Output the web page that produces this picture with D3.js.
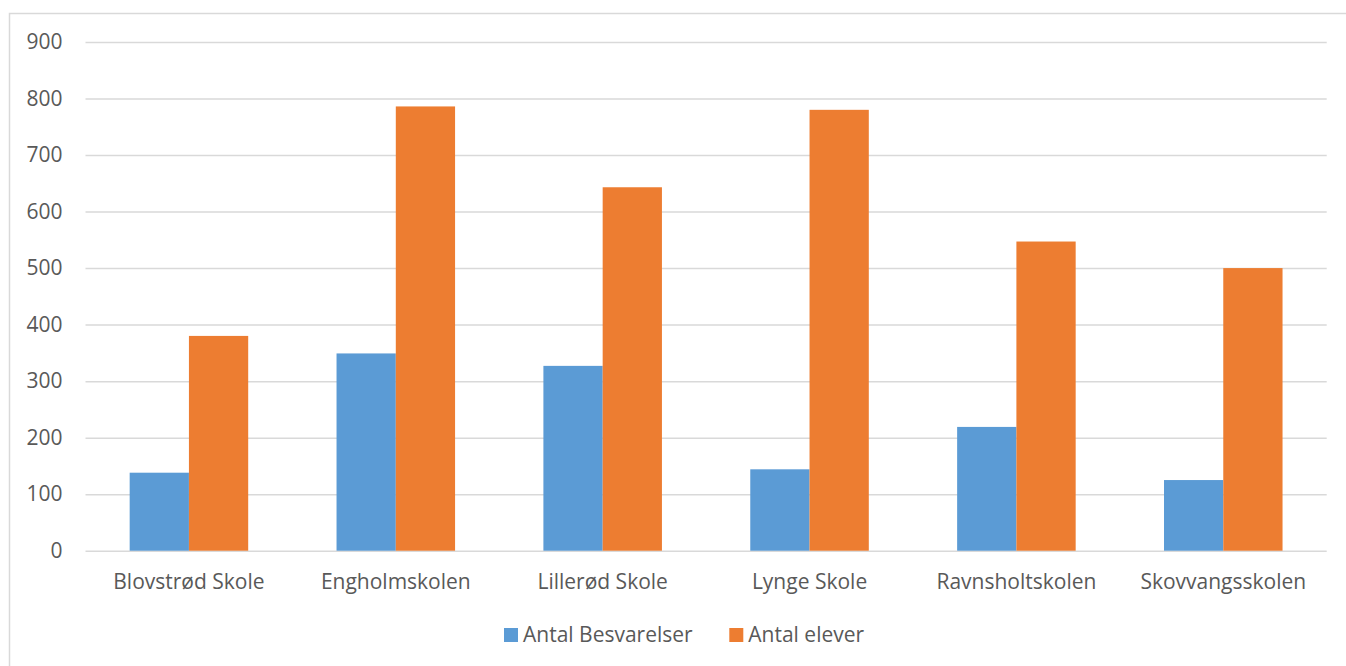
<!DOCTYPE html>
<html>
<head>
<meta charset="utf-8">
<script src="https://cdn.jsdelivr.net/npm/d3@7"></script>
<style>
  html, body { margin: 0; padding: 0; background: #fff; }
  svg { display: block; }
  text { font-family: "Open Sans", sans-serif; fill: #595959; }
</style>
</head>
<body>
<svg id="chart" width="1346" height="666"></svg>
<script>
const categories = ["Blovstrød Skole", "Engholmskolen", "Lillerød Skole", "Lynge Skole", "Ravnsholtskolen", "Skovvangsskolen"];
const seriesNames = ["Antal Besvarelser", "Antal elever"];
const besvarelser = [138, 349, 327, 144, 219, 125];
const elever = [380, 786, 643, 780, 547, 500];
const yTicks = [0, 100, 200, 300, 400, 500, 600, 700, 800, 900];
const colors = ["#5B9BD5", "#ED7D31"];

const svg = d3.select("#chart");
const W = 1346, H = 666;
const plot = { left: 85.5, right: 1326.7, top: 42, bottom: 550.7 };

// outer chart border
svg.append("rect")
  .attr("x", 9.5).attr("y", 13.5)
  .attr("width", W + 20).attr("height", H + 20)
  .attr("fill", "none").attr("stroke", "#D9D9D9").attr("stroke-width", 1.5);

const y = d3.scaleLinear().domain([0, 900]).range([plot.bottom, plot.top]);
const x0 = d3.scaleBand().domain(categories).range([plot.left, plot.right])
  .paddingInner(0.427).paddingOuter(0.2135);
const x1 = d3.scaleBand().domain(seriesNames).range([0, x0.bandwidth()]).padding(0);

// gridlines
const yAxis = d3.axisLeft(y).tickValues(yTicks).tickSize(-(plot.right - plot.left)).tickPadding(23).tickFormat(d3.format("d"));
const gy = svg.append("g").attr("transform", `translate(${plot.left},0)`).call(yAxis);
gy.select(".domain").remove();
gy.selectAll(".tick line").attr("stroke", "#D9D9D9").attr("stroke-width", 1.5);
gy.selectAll(".tick text").style("font-size", "21px").attr("fill", "#595959").style("font-family", "'Open Sans', sans-serif");

// bars
const rows = categories.map((c, i) => ({ cat: c, vals: [besvarelser[i], elever[i]] }));
const groups = svg.append("g").selectAll("g").data(rows).join("g")
  .attr("transform", d => `translate(${x0(d.cat)},0)`);
groups.selectAll("rect").data(d => d.vals.map((v, j) => ({ key: seriesNames[j], v, j })))
  .join("rect")
  .attr("x", d => x1(d.key))
  .attr("width", x1.bandwidth())
  .attr("y", d => y(d.v))
  .attr("height", d => y(0) - y(d.v))
  .attr("fill", d => colors[d.j]);

// x axis labels
const xAxis = d3.axisBottom(x0).tickSize(0).tickPadding(23);
const gx = svg.append("g").attr("transform", `translate(0,${plot.bottom})`).call(xAxis);
gx.select(".domain").remove();
gx.selectAll(".tick text").style("font-size", "21px").attr("fill", "#595959").style("font-family", "'Open Sans', sans-serif");

// legend
const legend = svg.append("g");
const legendX = [504, 729.3];
seriesNames.forEach((n, i) => {
  const g = legend.append("g").attr("transform", `translate(${legendX[i]},628)`);
  g.append("rect").attr("width", 14).attr("height", 14).attr("fill", colors[i]);
  g.append("text").attr("x", 19).attr("y", 14).style("font-size", "21px").text(n);
});
</script>
</body>
</html>
